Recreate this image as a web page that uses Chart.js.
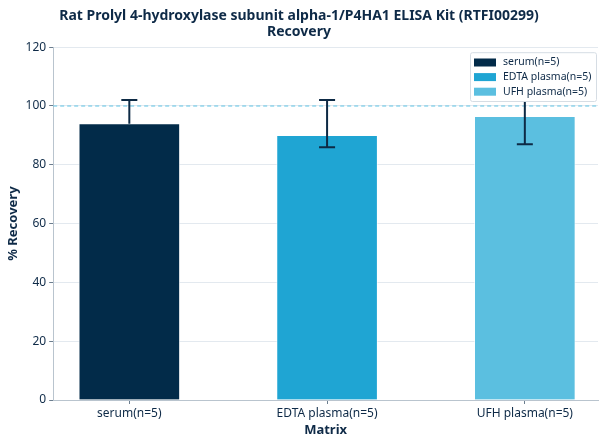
<!DOCTYPE html>
<html>
<head>
<meta charset="utf-8">
<script src="https://cdn.jsdelivr.net/npm/chart.js@4.4.0/dist/chart.umd.min.js"></script>
<style>
  html, body { margin: 0; padding: 0; background: #ffffff; }
  #wrap { width: 608px; height: 444px; }
</style>
</head>
<body>
<div id="wrap"><canvas id="myChart" width="608" height="444"></canvas></div>
<script>
// chart data
const categories = ['serum(n=5)', 'EDTA plasma(n=5)', 'UFH plasma(n=5)'];
const recovery = [94, 90, 96.5];
const errLow = [94, 86, 87];
const errHigh = [102, 102, 107];
const yTicks = [0, 20, 40, 60, 80, 100, 120];
const referenceLine = 100;

const barColors = ['#022b49', '#1fa5d3', '#5bbfe0'];
const textColor = '#0e2a47';
const fontFamily = '"Noto Sans", "DejaVu Sans", sans-serif';

document.addEventListener('DOMContentLoaded', function() {
    const canvas = document.getElementById('myChart');
    const ctx = canvas.getContext('2d');

    // dashed reference line at 100 %
    const refLinePlugin = {
        id: 'refLine',
        beforeDatasetsDraw(chart) {
            const y = chart.scales.y.getPixelForValue(referenceLine);
            const area = chart.chartArea;
            const c = chart.ctx;
            c.save();
            c.strokeStyle = '#5fc3e4';
            c.lineWidth = 1;
            c.setLineDash([4, 3]);
            c.beginPath();
            c.moveTo(area.left, y);
            c.lineTo(area.right, y);
            c.stroke();
            c.restore();
        }
    };

    // whiskers
    const errorBarPlugin = {
        id: 'errorBars',
        afterDatasetsDraw(chart) {
            const xs = chart.scales.x;
            const ys = chart.scales.y;
            const c = chart.ctx;
            c.save();
            c.strokeStyle = '#0d2a45';
            c.lineWidth = 2;
            categories.forEach(function(cat, i) {
                const x = xs.getPixelForValue(i);
                const yTop = ys.getPixelForValue(errHigh[i]);
                const yBot = ys.getPixelForValue(errLow[i]);
                c.beginPath();
                c.moveTo(x, yTop);
                c.lineTo(x, yBot);
                c.moveTo(x - 8, yTop);
                c.lineTo(x + 8, yTop);
                if (errLow[i] < recovery[i]) {
                    c.moveTo(x - 8, yBot);
                    c.lineTo(x + 8, yBot);
                }
                c.stroke();
            });
            c.restore();
        }
    };

    // legend box inside the plot, upper right
    const innerLegendPlugin = {
        id: 'innerLegend',
        afterDraw(chart) {
            const area = chart.chartArea;
            const c = chart.ctx;
            const boxW = 126, rowH = 14.6;
            const boxH = categories.length * rowH + 5;
            const left = area.right - boxW - 2;
            const top = area.top + 5;
            c.save();
            c.fillStyle = '#ffffff';
            c.strokeStyle = '#d6dde4';
            c.lineWidth = 1;
            c.beginPath();
            c.roundRect(left + 0.5, top + 0.5, boxW, boxH, 2);
            c.fill();
            c.stroke();
            c.font = '10.5px ' + fontFamily;
            c.textBaseline = 'middle';
            chart.data.datasets.forEach(function(ds, i) {
                const cy = top + 3 + rowH * i + rowH / 2;
                c.fillStyle = ds.backgroundColor;
                c.fillRect(left + 4, cy - 4, 22, 8);
                c.fillStyle = textColor;
                c.fillText(ds.label, left + 33, cy);
            });
            c.restore();
        }
    };

    const datasets = categories.map(function(cat, i) {
        return {
            label: cat,
            data: [{ x: i, y: recovery[i] }],
            backgroundColor: barColors[i],
            borderColor: 'rgba(255,255,255,0.6)',
            borderWidth: 1,
            barThickness: 101,
            grouped: false
        };
    });

    new Chart(ctx, {
        type: 'bar',
        data: { datasets: datasets },
        plugins: [refLinePlugin, errorBarPlugin, innerLegendPlugin],
        options: {
            responsive: false,
            animation: false,
            layout: { padding: { top: 2, right: 10, left: 0, bottom: 2 } },
            plugins: {
                legend: { display: false },
                tooltip: { enabled: false },
                title: {
                    display: true,
                    text: ['Rat Prolyl 4-hydroxylase subunit alpha-1/P4HA1 ELISA Kit (RTFI00299)', 'Recovery'],
                    color: textColor,
                    font: { family: fontFamily, size: 14, weight: 'bold', lineHeight: 1.15 },
                    padding: { top: 6, bottom: 7 }
                }
            },
            scales: {
                x: {
                    type: 'linear',
                    offset: false,
                    min: -0.385,
                    max: 2.37,
                    afterBuildTicks: function(axis) {
                        axis.ticks = categories.map(function(c, i) { return { value: i }; });
                    },
                    ticks: {
                        color: textColor,
                        font: { family: fontFamily, size: 12 },
                        padding: 2,
                        maxRotation: 0,
                        callback: function(v) { return categories[v]; }
                    },
                    grid: { drawOnChartArea: false, offset: false, tickLength: 4, tickColor: '#6b7d8e' },
                    border: { color: '#b9c4ce' },
                    title: {
                        display: true,
                        text: 'Matrix',
                        color: textColor,
                        font: { family: fontFamily, size: 13, weight: 'bold' },
                        padding: { top: 0 }
                    }
                },
                y: {
                    min: 0,
                    max: 120,
                    afterBuildTicks: function(axis) {
                        axis.ticks = yTicks.map(function(v) { return { value: v }; });
                    },
                    ticks: {
                        color: textColor,
                        font: { family: fontFamily, size: 12 },
                        padding: 3
                    },
                    grid: { color: '#e3e9ef', tickLength: 4, tickColor: '#6b7d8e' },
                    border: { color: '#b9c4ce' },
                    title: {
                        display: true,
                        text: '% Recovery',
                        color: textColor,
                        font: { family: fontFamily, size: 13, weight: 'bold' },
                        padding: { top: 5, bottom: 2 }
                    }
                }
            }
        }
    });
});
</script>
</body>
</html>
